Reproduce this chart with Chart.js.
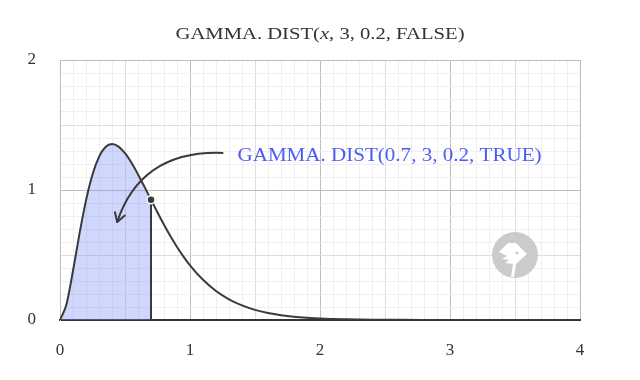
<!DOCTYPE html>
<html>
<head>
<meta charset="utf-8">
<script src="https://cdn.jsdelivr.net/npm/chart.js@4/dist/chart.umd.min.js"></script>
<style>
html,body{margin:0;padding:0;background:#fff;}
#wrap{width:640px;height:380px;}
</style>
</head>
<body>
<div id="wrap"><canvas id="c" width="640" height="380"></canvas></div>
<script>
// Curve values (x, density)
const xValues = [0,0.05,0.1,0.15,0.2,0.25,0.3,0.35,0.4,0.45,0.5,0.55,0.6,0.65,0.7,0.75,0.8,0.85,0.9,0.95,1.0,1.1,1.2,1.3,1.4,1.5,1.6,1.7,1.8,1.9,2.0,2.2,2.4,2.6,2.8,3.0,3.5,4.0];
const yValues = [0,0.122,0.379,0.664,0.920,1.119,1.255,1.331,1.353,1.334,1.283,1.209,1.120,1.024,0.925,0.827,0.733,0.644,0.562,0.488,0.421,0.309,0.223,0.159,0.112,0.078,0.054,0.037,0.025,0.017,0.011,0.005,0.002,0.001,0.0004,0.0002,0,0];
const markX = 0.7;
const markY = 0.925;
const xTickLabels = ['0','1','2','3','4'];
const yTickLabels = ['0','1','2'];
const titleParts = ['GAMMA. DIST(', 'x', ', 3, 0.2, FALSE)'];
const annotationText = 'GAMMA. DIST(0.7, 3, 0.2, TRUE)';
const arrowStart = [1.25, 1.285];
const arrowEnd = [0.44, 0.754];
const logoCenter = [3.5, 0.5];

const FONT = '"Liberation Serif", "DejaVu Serif", serif';
const TICKFONT = '"Liberation Serif", serif';

const curve = xValues.map((x,i)=>({x:x,y:yValues[i]}));
const shaded = curve.filter(p=>p.x<=markX+1e-9);

function isInt(v){return Math.abs(v-Math.round(v))<1e-6;}
function isHalf(v){return Math.abs(v*2-Math.round(v*2))<1e-6;}
function gridColor(ctx){
  const v = ctx.tick ? ctx.tick.value : 0;
  if (isInt(v)) return '#bdbdbd';
  if (isHalf(v)) return '#dedede';
  return '#efefef';
}

const overlay = {
  id:'overlay',
  afterDatasetsDraw(chart){
    const c = chart.ctx, xs = chart.scales.x, ys = chart.scales.y;
    // logo watermark
    const lx = xs.getPixelForValue(logoCenter[0]), ly = ys.getPixelForValue(logoCenter[1]);
    c.save();
    c.fillStyle = '#cbcbcb';
    c.beginPath(); c.arc(lx, ly, 23, 0, Math.PI*2); c.fill();
    c.fillStyle = '#ffffff';
    c.beginPath();
    c.moveTo(lx-16, ly-3);
    c.lineTo(lx-7, ly-12);
    c.lineTo(lx+1, ly-12);
    c.lineTo(lx+12, ly-1);
    c.lineTo(lx+1, ly+9);
    c.lineTo(lx-1, ly+22);
    c.lineTo(lx-4, ly+22);
    c.lineTo(lx-2, ly+9);
    c.lineTo(lx-10, ly+8);
    c.lineTo(lx-6, ly+5);
    c.lineTo(lx-13, ly+4);
    c.lineTo(lx-8, ly+1);
    c.closePath(); c.fill();
    c.fillStyle = '#cbcbcb';
    c.beginPath(); c.arc(lx+2, ly-2, 1.6, 0, Math.PI*2); c.fill();
    c.restore();

    // arrow
    const sx = xs.getPixelForValue(arrowStart[0]), sy = ys.getPixelForValue(arrowStart[1]);
    const ex = xs.getPixelForValue(arrowEnd[0]), ey = ys.getPixelForValue(arrowEnd[1]);
    c.save();
    c.strokeStyle = '#3a3a3a'; c.lineWidth = 2; c.lineCap='round'; c.lineJoin='round';
    c.beginPath();
    c.moveTo(sx, sy);
    const c1x = sx-60, c1y = sy-2, c2x = ex+14, c2y = ey-42;
    c.bezierCurveTo(c1x, c1y, c2x, c2y, ex, ey);
    c.stroke();
    // arrow head (open chevron)
    const ang = Math.atan2(ey-c2y, ex-c2x);
    const hl = 10;
    c.beginPath();
    c.moveTo(ex + hl*Math.cos(ang-Math.PI+0.55), ey + hl*Math.sin(ang-Math.PI+0.55));
    c.lineTo(ex, ey);
    c.lineTo(ex + hl*Math.cos(ang-Math.PI-0.55), ey + hl*Math.sin(ang-Math.PI-0.55));
    c.stroke();
    c.restore();

    // annotation text
    c.save();
    c.font = '18px ' + FONT;
    c.fillStyle = '#4a5cf2';
    c.textBaseline = 'middle';
    c.textAlign = 'left';
    const aw = c.measureText(annotationText).width;
    c.translate(sx + 15, sy + 3);
    c.scale(304/aw, 1);
    c.fillText(annotationText, 0, 0);
    c.restore();

    // title
    c.save();
    c.fillStyle = '#333333';
    c.textBaseline = 'middle';
    const f1 = '17px ' + FONT, f2 = 'italic 17px ' + FONT;
    c.font = f1; const w0 = c.measureText(titleParts[0]).width;
    c.font = f2; const w1 = c.measureText(titleParts[1]).width;
    c.font = f1; const w2 = c.measureText(titleParts[2]).width;
    const tot = w0+w1+w2;
    const k = 289/tot;
    c.translate((xs.left + xs.right)/2 - 289/2, 35);
    c.scale(k, 1);
    let tx = 0;
    c.font = f1; c.fillText(titleParts[0], tx, 0); tx += w0;
    c.font = f2; c.fillText(titleParts[1], tx, 0); tx += w1;
    c.font = f1; c.fillText(titleParts[2], tx, 0);
    c.restore();
  }
};

new Chart(document.getElementById('c'), {
  type:'line',
  data:{
    datasets:[
      {data:shaded, borderWidth:0, pointRadius:0, fill:'origin', backgroundColor:'rgba(120,140,250,0.35)', cubicInterpolationMode:'monotone', order:3},
      {data:curve, borderColor:'#3a3a3a', borderWidth:2, pointRadius:0, fill:false, cubicInterpolationMode:'monotone', order:2},
      {data:[{x:markX,y:0},{x:markX,y:markY}], borderColor:'#3a3a3a', borderWidth:2, pointRadius:0, fill:false, order:1},
      {data:[{x:markX,y:markY}], showLine:false, pointRadius:4, pointBackgroundColor:'#3a3a3a', pointBorderColor:'#ffffff', pointBorderWidth:1.5, order:0}
    ]
  },
  options:{
    responsive:false, animation:false, devicePixelRatio:1,
    layout:{padding:{top:60,right:60,left:0,bottom:0}},
    plugins:{legend:{display:false}, tooltip:{enabled:false}},
    scales:{
      x:{type:'linear', min:0, max:4,
        afterFit(s){s.height=60;},
        ticks:{stepSize:0.1, autoSkip:false, maxRotation:0, padding:20, color:'#333', font:{family:TICKFONT, size:17},
          callback(v){return isInt(v)? xTickLabels[Math.round(v)] : '';}},
        grid:{color:gridColor, drawTicks:false},
        border:{color:'#333333', width:2}
      },
      y:{type:'linear', min:0, max:2,
        afterFit(s){s.width=60;},
        ticks:{stepSize:0.1, autoSkip:false, padding:24, color:'#333', font:{family:TICKFONT, size:17},
          callback(v){return isInt(v)? yTickLabels[Math.round(v)] : '';}},
        grid:{color:gridColor, drawTicks:false},
        border:{color:'#bdbdbd', width:1}
      }
    }
  },
  plugins:[overlay]
});
</script>
</body>
</html>
